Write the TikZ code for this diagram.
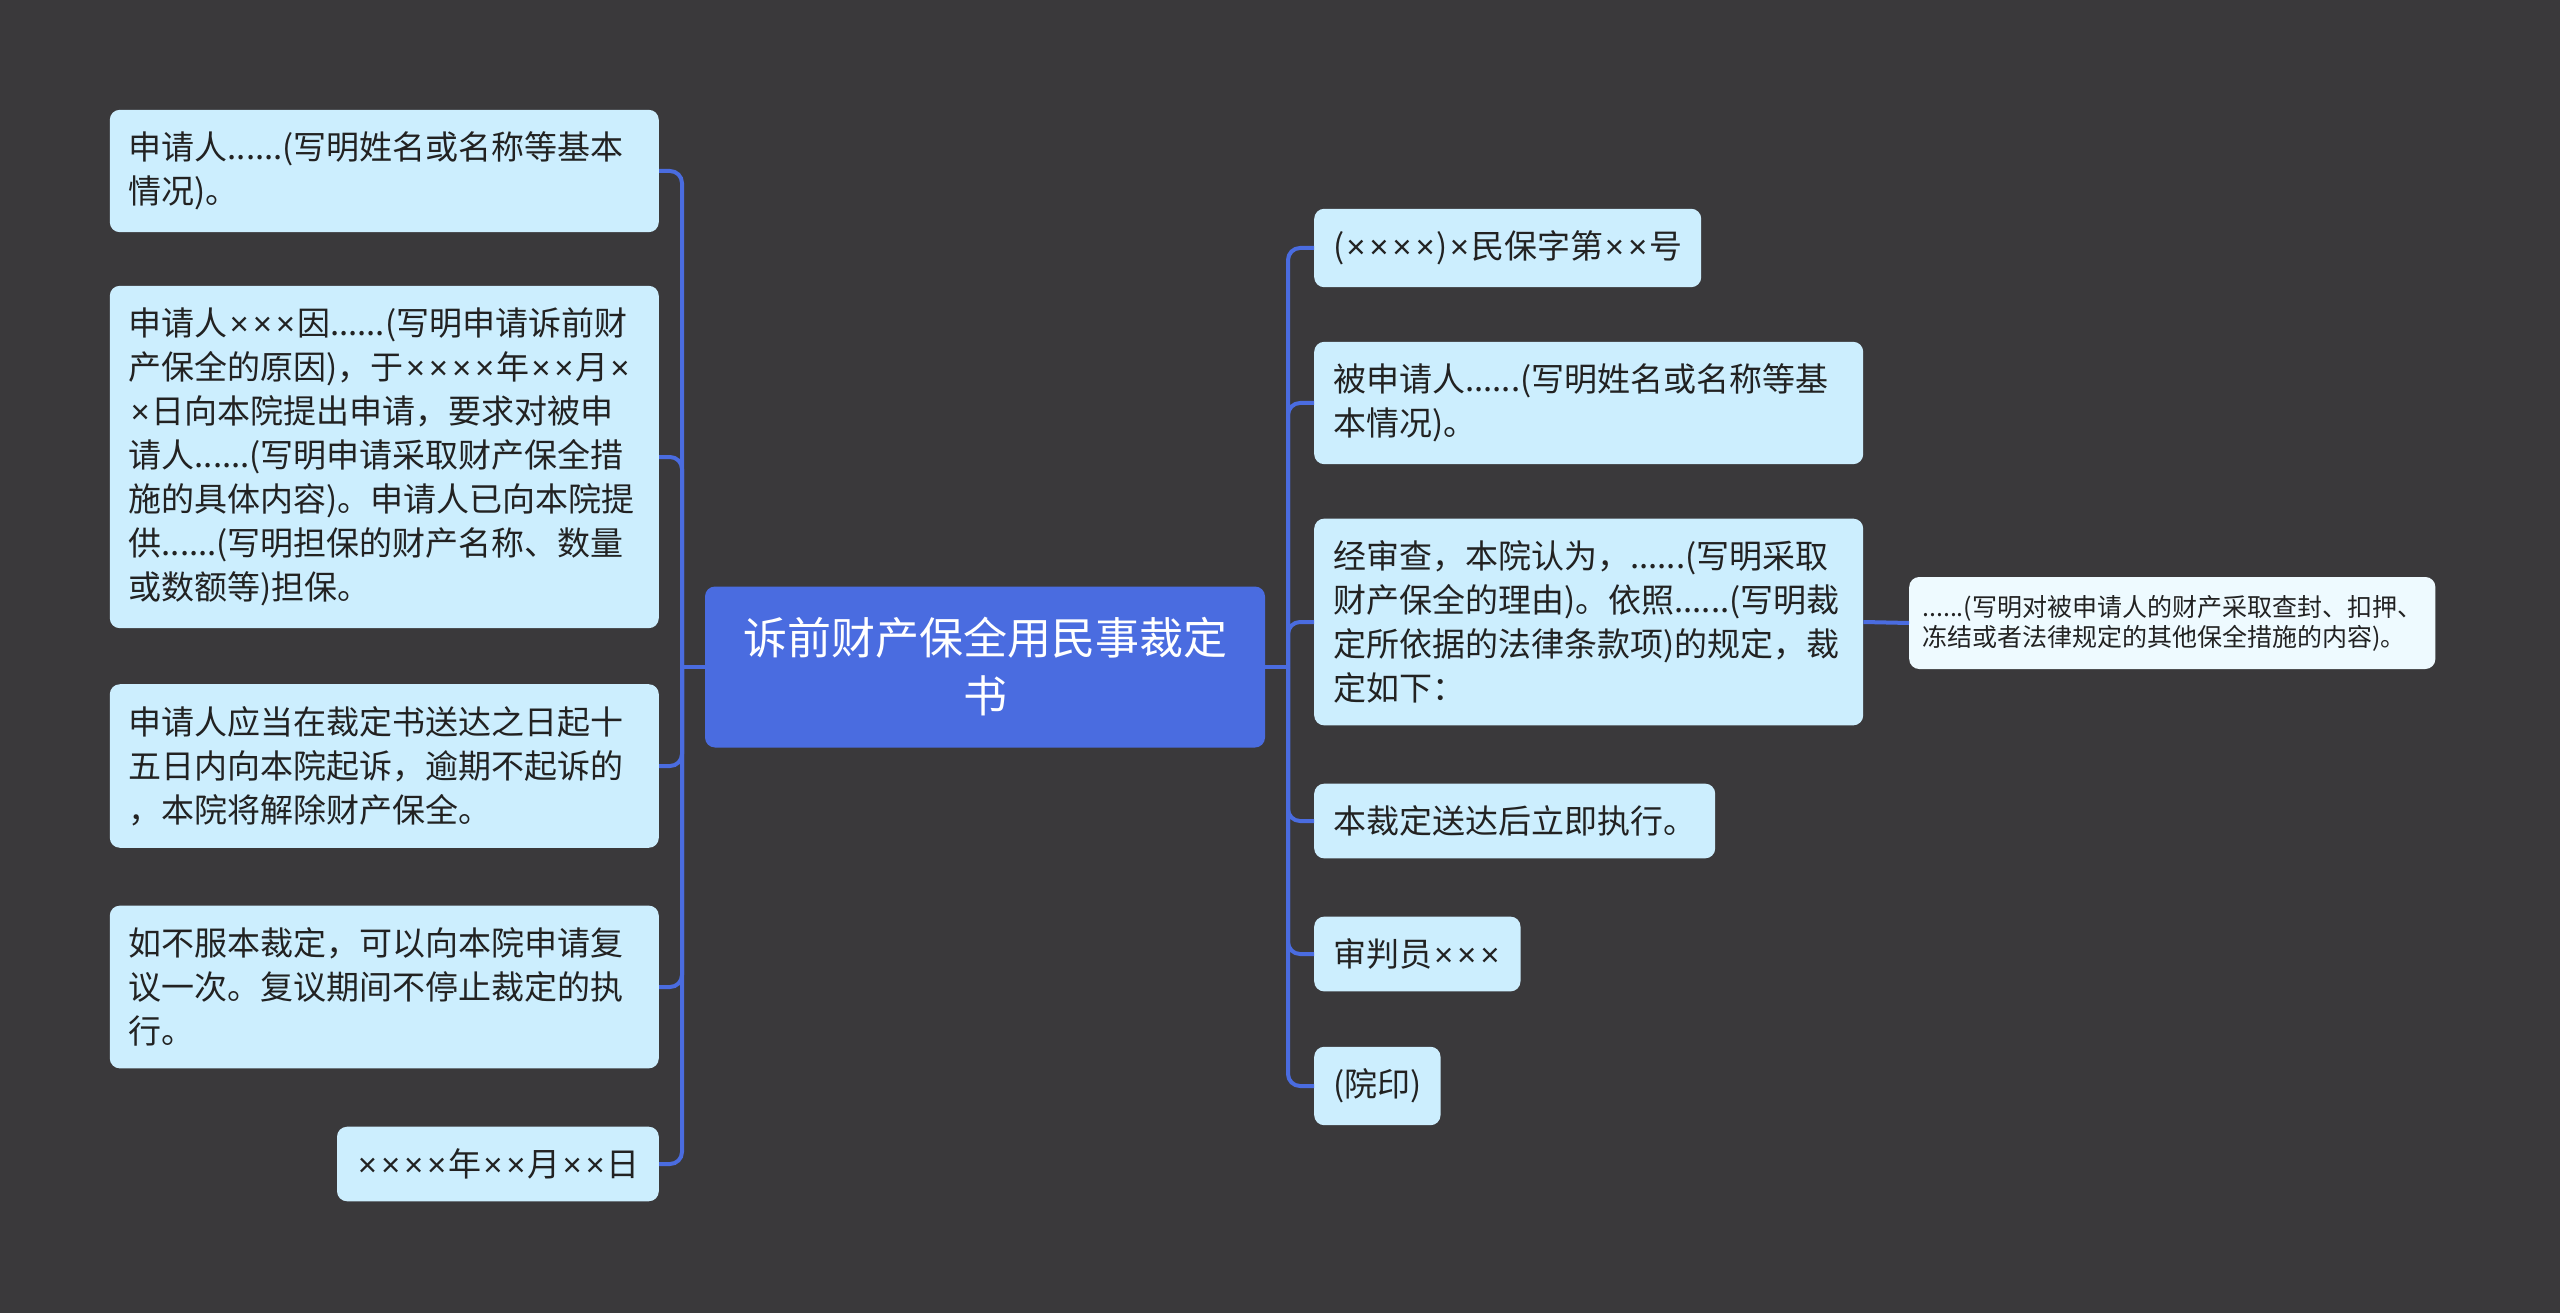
\documentclass[tikz,border=0pt]{standalone}
\usepackage{fontspec}
\setmainfont{Noto Sans CJK SC}
\newfontfamily\xfont{Liberation Sans}
\usetikzlibrary{calc}
\definecolor{bg}{RGB}{58,57,59}
\definecolor{hub}{RGB}{74,108,224}
\definecolor{leafc}{RGB}{204,238,254}
\definecolor{notec}{RGB}{238,250,255}
\definecolor{ink}{RGB}{34,34,34}
\newcommand\tms{\makebox[0.7em]{\xfont ×}}

\begin{document}
\begin{tikzpicture}[x=1pt,y=-1pt,
    link/.style={draw=hub,line width=4pt,rounded corners=12pt},
    leaf/.style={fill=leafc,rounded corners=10pt,text=ink,inner xsep=19pt,inner ysep=22pt,
      align=left,font=\fontsize{33}{44}\selectfont},
    wide/.style={leaf,text width=511pt}]
    \fill[bg] (0,0) rectangle (2560,1313);
    \useasboundingbox (0,0) rectangle (2560,1313);
    % root
    \node[fill=hub,rounded corners=10pt,text=white,minimum width=560pt,minimum height=161pt,
      text width=490pt,align=center,font=\fontsize{44}{58}\selectfont] (c) at (985,667)
      {诉前财产保全用民事裁定\\书};
    \coordinate (lj) at (682,667);
    \coordinate (rj) at (1288,667);
    \draw[link] (c.west) -- (lj);
    \draw[link] (c.east) -- (rj);
    % left side
    \foreach \n/\y/\s/\t in {
      l1/171/wide/{申请人......(写明姓名或名称等基本\\情况)。},
      l2/457/wide/{申请人\tms\tms\tms 因......(写明申请诉前财\\产保全的原因)，于\tms\tms\tms\tms 年\tms\tms 月\tms\\\tms 日向本院提出申请，要求对被申\\请人......(写明申请采取财产保全措\\施的具体内容)。申请人已向本院提\\供......(写明担保的财产名称、数量\\或数额等)担保。},
      l3/766/wide/{申请人应当在裁定书送达之日起十\\五日内向本院起诉，逾期不起诉的\\，本院将解除财产保全。},
      l4/987/wide/{如不服本裁定，可以向本院申请复\\议一次。复议期间不停止裁定的执\\行。},
      l5/1164/leaf/{\tms\tms\tms\tms 年\tms\tms 月\tms\tms 日}}{
      \node[\s,anchor=east] (\n) at (659,\y) {\t};
      \draw[link] (lj) |- (\n.east);
    }
    % right side
    \foreach \n/\y/\s/\t in {
      r1/248/leaf/{(\tms\tms\tms\tms)\tms 民保字第\tms\tms 号},
      r2/403/wide/{被申请人......(写明姓名或名称等基\\本情况)。},
      r3/622/wide/{经审查，本院认为，......(写明采取\\财产保全的理由)。依照......(写明裁\\定所依据的法律条款项)的规定，裁\\定如下：},
      r4/821/leaf/{本裁定送达后立即执行。},
      r5/954/leaf/{审判员\tms\tms\tms},
      r6/1086/leaf/{(院印)}}{
      \node[\s,anchor=west] (\n) at (1314,\y) {\t};
      \draw[link] (rj) |- (\n.west);
    }
    \node[leaf,fill=notec,inner xsep=13pt,inner ysep=18pt,font=\fontsize{25}{30}\selectfont,
      anchor=west] (f) at (1909,623)
      {......(写明对被申请人的财产采取查封、扣押、\\冻结或者法律规定的其他保全措施的内容)。};
    \draw[link] (r3.east) -- (f.west);
\end{tikzpicture}
\end{document}
